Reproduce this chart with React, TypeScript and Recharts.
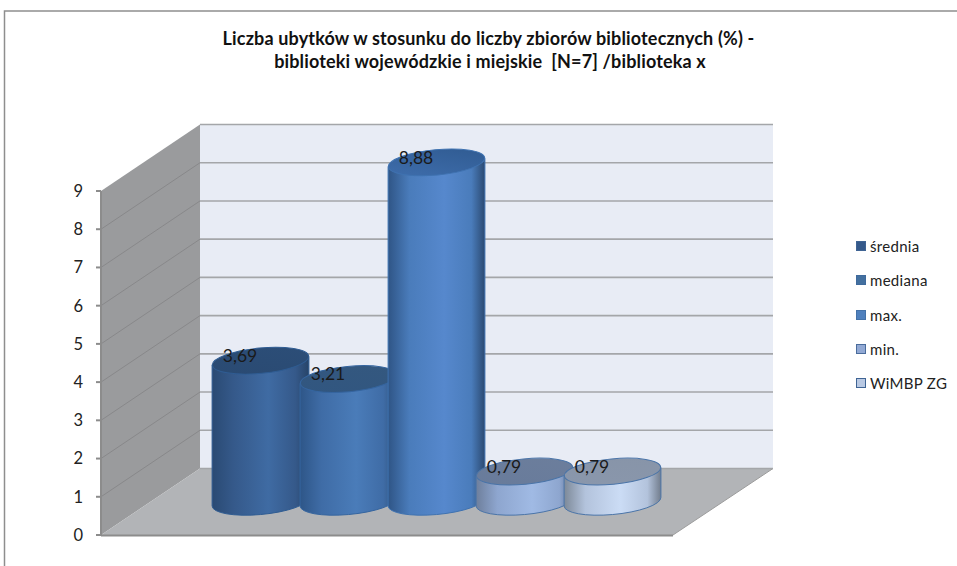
import { Bar, BarChart, CartesianGrid, LabelList, Legend, XAxis, YAxis } from "recharts";

const W = 957;
const H = 566;

const titleLines = [
  "Liczba ubytków w stosunku do liczby zbiorów bibliotecznych (%) -",
  "biblioteki wojewódzkie i miejskie  [N=7] /biblioteka x",
];
const categories = ["biblioteka x"];
const seriesKeys = ["srednia", "mediana", "max", "min", "wimbp"];
const seriesNames = ["średnia", "mediana", "max.", "min.", "WiMBP ZG"];
const seriesValues = [3.69, 3.21, 8.88, 0.79, 0.79];
const yTicks = [0, 1, 2, 3, 4, 5, 6, 7, 8, 9];

// side colours per series: edge, mid, light, right edge, top face (2), outline
const edgeLeft = ["#2a4a73", "#2e5688", "#2f5586", "#6e7f9c", "#7d8998"];
const mid = ["#35598a", "#3f6ca6", "#4a7cbb", "#8ea6cf", "#b3c3dc"];
const light = ["#3f6ba3", "#4a7cb9", "#5688cd", "#a0bae4", "#cbdcf5"];
const edgeRight = ["#274468", "#2f5078", "#2b4a72", "#5f7191", "#727d8d"];
const topA = ["#2a4a72", "#315680", "#3f6ead", "#687b9b", "#8a97ac"];
const topB = ["#2c4e78", "#34587f", "#2f5a90", "#6c7e9c", "#8794a8"];
const outline = ["#2f5c92", "#35659f", "#3f72b0", "#4a74a8", "#4a74a8"];
const legendFill = ["#35598a", "#43709f", "#4f80bd", "#92a9d4", "#b9c9e3"];
const legendBorder = ["#3f6494", "#3f6a9c", "#4472a8", "#4a6c9c", "#3f6494"];

const chartData = categories.map((category) => {
  const row: Record<string, string | number> = { category };
  seriesKeys.forEach((k, i) => (row[k] = seriesValues[i]));
  return row;
});

// plot box (front plane of the 3D box), depth is where the back wall sits
const PLOT = { left: 101, right: 673, top: 191, bottom: 535 };
const DEPTH = { x: 99, y: -66.5 };
const TILT = -5.3;
const RY = 12.7;

function Frame() {
  const { left, right, top, bottom } = PLOT;
  const bx = left + DEPTH.x;
  const by = bottom + DEPTH.y;
  const tx = top + DEPTH.y;
  return (
    <svg width={W} height={H} style={{ position: "absolute", left: 0, top: 0 }}>
      <path d={`M4.5 ${H} V11 H${W}`} fill="none" stroke="#8e8e8e" strokeWidth={1.5} />
      <polygon points={`${bx},${tx} ${bx + 573},${tx} ${bx + 573},${by} ${bx},${by}`} fill="#e8ecf5" />
      <polygon points={`${left},${top} ${bx},${tx} ${bx},${by} ${left},${bottom}`} fill="#9a9b9d" />
      <polygon points={`${left},${bottom} ${bx},${by} ${bx + 573},${by} ${right},${bottom}`} fill="#b2b4b7" />
      <line x1={right} y1={bottom} x2={bx + 573} y2={by} stroke="#9c9c9c" strokeWidth={1} />
      <line x1={left} y1={bottom + 0.5} x2={right} y2={bottom + 0.5} stroke="#8c8c8c" strokeWidth={2} />
      {titleLines.map((t, i) => (
        <text
          key={i}
          x={i === 0 ? 488.5 : 490}
          y={45 + i * 23}
          textAnchor="middle"
          fontFamily="Lato"
          fontWeight={700}
          fontSize={18}
          letterSpacing={0.15}
          fill="#111"
          xmlSpace="preserve"
        >
          {t}
        </text>
      ))}
    </svg>
  );
}

// grid line = side wall segment + back wall segment, y comes from the axis scale
function gridLine(p: any) {
  const y = p.y1;
  const isEdge = Math.abs(y - PLOT.bottom) < 1 || Math.abs(y - PLOT.top) < 1;
  const x = PLOT.left + DEPTH.x;
  return (
    <g key={p.key ?? y}>
      {!isEdge && <line x1={PLOT.left} y1={y} x2={x} y2={y + DEPTH.y} stroke="#88888a" strokeWidth={1} />}
      <line x1={x} y1={y + DEPTH.y} x2={x + 573} y2={y + DEPTH.y} stroke="#a4a6a9" strokeWidth={1.6} />
    </g>
  );
}

function cylinder(i: number) {
  return function Cylinder(p: any) {
    const cx = p.x + p.width / 2 + DEPTH.x / 2;
    const rx = (p.width * 1.1) / 2;
    const yTop = p.y + DEPTH.y / 2;
    const yBase = p.y + p.height + DEPTH.y / 2;
    const dy = 4.2;
    const side = `M${cx - rx} ${yTop + dy} L${cx - rx} ${yBase + dy} A${rx} ${RY} ${TILT} 0 0 ${cx + rx} ${yBase - dy} L${cx + rx} ${yTop - dy} Z`;
    return (
      <g>
        <defs>
          <linearGradient id={`side${i}`} x1="0" y1="0" x2="1" y2="0">
            <stop offset="0" stopColor={edgeLeft[i]} />
            <stop offset="0.22" stopColor={mid[i]} />
            <stop offset="0.58" stopColor={light[i]} />
            <stop offset="0.86" stopColor={mid[i]} />
            <stop offset="1" stopColor={edgeRight[i]} />
          </linearGradient>
          <linearGradient id={`top${i}`} x1="0" y1="1" x2="1" y2="0">
            <stop offset="0" stopColor={topA[i]} />
            <stop offset="1" stopColor={topB[i]} />
          </linearGradient>
        </defs>
        <path d={side} fill={`url(#side${i})`} stroke={outline[i]} strokeWidth={1} />
        <ellipse
          cx={cx}
          cy={yTop}
          rx={rx}
          ry={RY}
          transform={`rotate(${TILT} ${cx} ${yTop})`}
          fill={`url(#top${i})`}
          stroke={outline[i]}
          strokeWidth={1}
        />
      </g>
    );
  };
}

function valueLabel(p: any) {
  return (
    <text
      x={p.x + 73}
      y={p.y - 38.5}
      textAnchor="middle"
      dominantBaseline="central"
      fontFamily="Lato"
      fontSize={17.5}
      fill="#1a1a1a"
    >
      {String(p.value).replace(".", ",")}
    </text>
  );
}

function legendContent(props: any) {
  return (
    <div>
      {props.payload.map((e: any, i: number) => (
        <div
          key={e.value}
          style={{ height: 34.3, display: "flex", alignItems: "center", fontFamily: "Lato", fontSize: 15, color: "#222", letterSpacing: 0.3, whiteSpace: "nowrap" }}
        >
          <span
            style={{
              width: 8,
              height: 8,
              marginRight: 4,
              background: legendFill[i],
              border: `1.5px solid ${legendBorder[i]}`,
              display: "inline-block",
              flexShrink: 0,
            }}
          />
          {e.value}
        </div>
      ))}
    </div>
  );
}

export default function App() {
  return (
    <div style={{ position: "absolute", left: 0, top: 0, width: W, height: H, background: "#fff" }}>
      <Frame />
      <div style={{ position: "absolute", left: 0, top: 0 }}>
        <BarChart
          width={W}
          height={H}
          data={chartData}
          barGap={0}
          barCategoryGap="11.54%"
          margin={{ top: PLOT.top, right: W - PLOT.right, bottom: H - PLOT.bottom, left: PLOT.left - 60 }}
        >
          <CartesianGrid horizontal={gridLine} vertical={false} />
          <XAxis dataKey="category" hide />
          <YAxis
            width={60}
            domain={[0, 9]}
            ticks={yTicks}
            interval={0}
            stroke="#8c8c8c"
            strokeWidth={2}
            tickSize={5}
            tickMargin={13}
            tick={{ fill: "#222", fontSize: 16.5, fontFamily: "Lato" }}
          />
          <Legend
            layout="vertical"
            align="center"
            verticalAlign="middle"
            itemSorter={null}
            content={legendContent}
            wrapperStyle={{ left: 856, top: 229, width: 100 }}
          />
          {seriesKeys.map((k, i) => (
            <Bar key={k} dataKey={k} name={seriesNames[i]} fill={legendFill[i]} shape={cylinder(i)} isAnimationActive={false}>
              <LabelList dataKey={k} content={valueLabel} />
            </Bar>
          ))}
        </BarChart>
      </div>
    </div>
  );
}
